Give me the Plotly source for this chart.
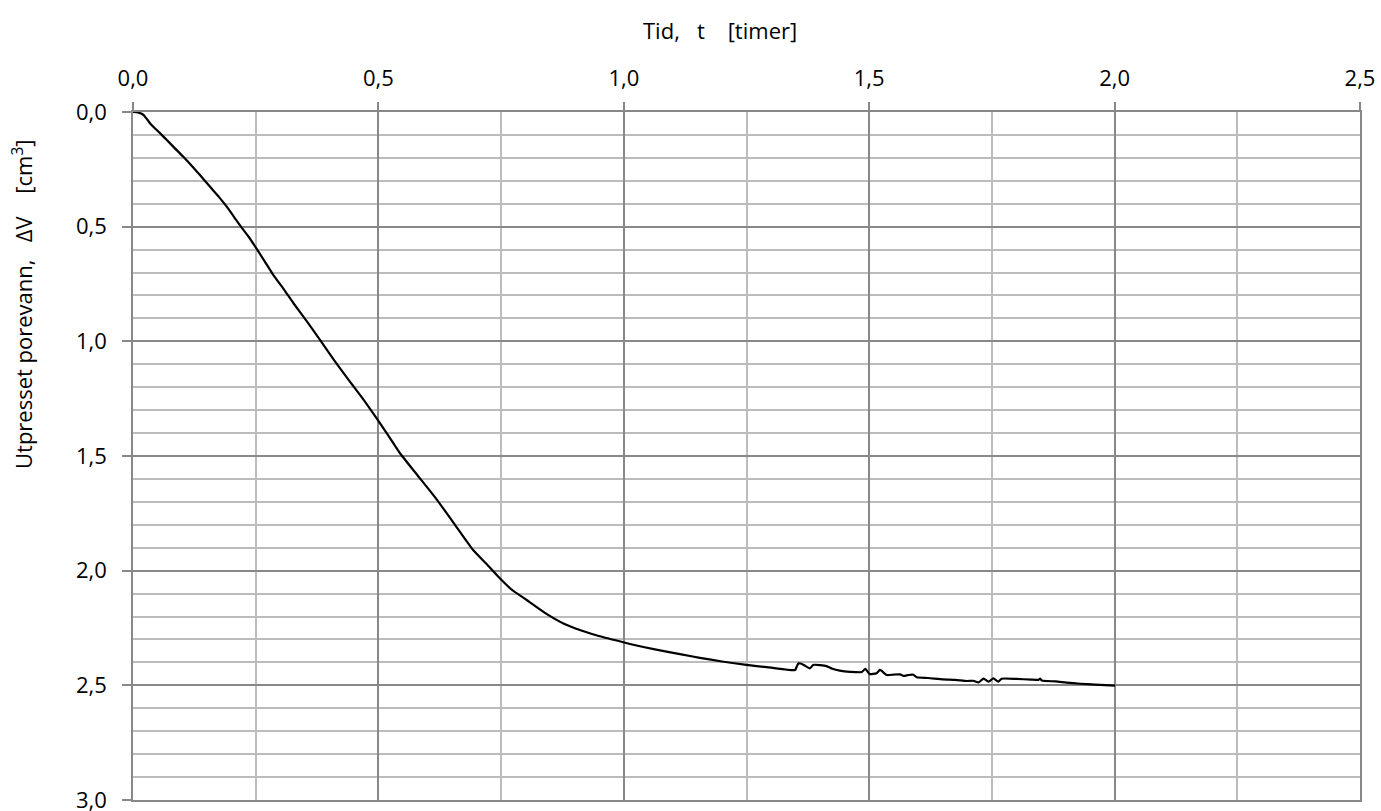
import plotly.graph_objects as go

# Time [hours]
t = [0.000, 0.010, 0.021, 0.028, 0.035, 0.045, 0.055, 0.068, 0.082, 0.1025, 0.120, 0.1365,
     0.157, 0.175, 0.191, 0.206, 0.221, 0.236, 0.249, 0.268, 0.286, 0.307, 0.327, 0.355,
     0.381, 0.410, 0.440, 0.470, 0.4965, 0.520, 0.544, 0.580, 0.619, 0.656, 0.693, 0.720,
     0.741, 0.770, 0.802, 0.840, 0.877, 0.915, 0.951, 0.999, 1.040, 1.087, 1.120, 1.155,
     1.200, 1.250, 1.300, 1.349, 1.352, 1.356, 1.366, 1.379, 1.386, 1.400, 1.413, 1.425,
     1.440, 1.461, 1.485, 1.492, 1.501, 1.515, 1.522, 1.536, 1.550, 1.563, 1.570, 1.580,
     1.590, 1.597, 1.620, 1.651, 1.675, 1.699, 1.712, 1.723, 1.733, 1.743, 1.753, 1.763,
     1.770, 1.800, 1.830, 1.845, 1.848, 1.852, 1.880, 1.902, 1.930, 1.960, 2.001]

# Expelled pore water, dV [cm3]
dV = [0.000, 0.002, 0.012, 0.030, 0.050, 0.072, 0.092, 0.120, 0.151, 0.195, 0.235, 0.275,
      0.326, 0.370, 0.413, 0.458, 0.503, 0.545, 0.587, 0.650, 0.711, 0.772, 0.834, 0.915,
      0.994, 1.083, 1.170, 1.255, 1.336, 1.410, 1.488, 1.585, 1.690, 1.800, 1.910, 1.970,
      2.019, 2.080, 2.128, 2.185, 2.230, 2.262, 2.286, 2.312, 2.333, 2.353, 2.366, 2.380,
      2.396, 2.411, 2.423, 2.433, 2.420, 2.404, 2.410, 2.426, 2.411, 2.412, 2.416, 2.428,
      2.436, 2.441, 2.442, 2.428, 2.451, 2.447, 2.433, 2.455, 2.453, 2.452, 2.459, 2.455,
      2.454, 2.465, 2.468, 2.474, 2.476, 2.481, 2.480, 2.487, 2.471, 2.484, 2.470, 2.484,
      2.471, 2.472, 2.475, 2.476, 2.471, 2.479, 2.483, 2.488, 2.493, 2.497, 2.501]

x_ticks = [0.0, 0.5, 1.0, 1.5, 2.0, 2.5]
y_ticks = [0.0, 0.5, 1.0, 1.5, 2.0, 2.5, 3.0]

x_title = "Tid,\u00a0\u00a0\u00a0t\u00a0\u00a0\u00a0\u00a0[timer]"
y_title = "Utpresset porevann,\u00a0\u00a0\u00a0ΔV\u00a0\u00a0\u00a0\u00a0[cm<sup>3</sup>]"

font_family = "Open Sans, Noto Sans, DejaVu Sans, sans-serif"
major_col = "#888888"
minor_col = "#bcbcbc"
fsize = 22

fig = go.Figure()
fig.add_trace(go.Scatter(x=t, y=dV, mode="lines", line_shape="spline",
                         line=dict(color="black", width=2.2, smoothing=0.5),
                         showlegend=False))

fig.update_layout(
    width=1381, height=811,
    margin=dict(l=133, r=21, t=112, b=11, autoexpand=False),
    paper_bgcolor="white", plot_bgcolor="white",
    separators=", ",
    font=dict(family=font_family, size=fsize, color="black"),
    xaxis=dict(
        side="top", range=[0, 2.5], tickvals=x_ticks, tickformat=".1f",
        showgrid=True, gridcolor=major_col, gridwidth=1.5,
        minor=dict(dtick=0.25, showgrid=True, gridcolor=minor_col, gridwidth=1.5),
        ticks="outside", ticklen=8, tickcolor=major_col, tickwidth=1.5,
        ticklabelstandoff=7, ticklabeloverflow="allow",
        showline=True, linecolor=major_col, linewidth=1.5, mirror=True,
        zeroline=False, automargin=False,
        tickfont=dict(size=fsize),
    ),
    yaxis=dict(
        range=[3.0, 0], tickvals=y_ticks, tickformat=".1f",
        showgrid=True, gridcolor=major_col, gridwidth=1.5,
        minor=dict(dtick=0.1, showgrid=True, gridcolor=minor_col, gridwidth=1.5),
        ticks="outside", ticklen=9, tickcolor=major_col, tickwidth=1.5,
        ticklabelstandoff=11, ticklabeloverflow="allow",
        showline=True, linecolor=major_col, linewidth=1.5, mirror=True,
        zeroline=False, automargin=False,
        tickfont=dict(size=fsize),
    ),
    annotations=[
        dict(text=x_title, xref="paper", yref="paper",
             x=(720 - 133) / 1227, y=1 + (112 - 30) / 688,
             xanchor="center", yanchor="middle", showarrow=False,
             font=dict(size=fsize)),
        dict(text=y_title, xref="paper", yref="paper", textangle=-90,
             x=(22 - 133) / 1227, y=(800 - 305) / 688,
             xanchor="center", yanchor="middle", showarrow=False,
             font=dict(size=fsize)),
    ],
)

fig.write_html("out.html", config={"displayModeBar": False},
               post_script="document.body.style.margin='0';document.body.style.overflow='hidden';")
